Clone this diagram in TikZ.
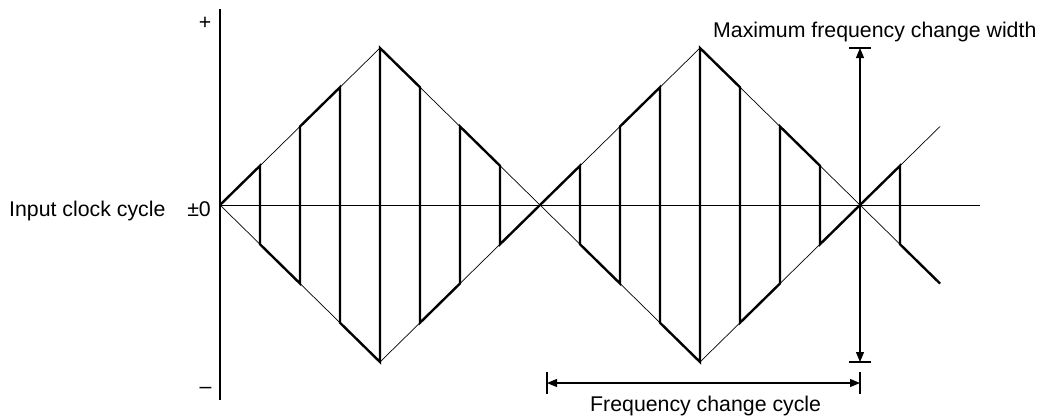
\documentclass[tikz,border=0pt]{standalone}
\usepackage{fontspec}
\setmainfont{Liberation Sans}
\usetikzlibrary{arrows.meta}
\begin{document}
\begin{tikzpicture}[x=1pt,y=-1pt,
  thinline/.style={line width=0.7pt},
  axisline/.style={line width=1.1pt},
  stepline/.style={line width=2.4pt,line join=miter,line cap=butt},
  dimline/.style={line width=1.1pt,{Triangle[length=10pt,width=8pt]}-{Triangle[length=10pt,width=8pt]}},
  lbl/.style={inner sep=0pt,font=\fontsize{21.3}{25}\selectfont}]
\useasboundingbox (0,0) rectangle (1044,416);
% axes
\coordinate (ytop) at (220,9);
\coordinate (ybot) at (220,400);
\coordinate (o) at (220,205);
\coordinate (xend) at (980,205);
\draw[axisline] (ytop) -- (ybot);
\draw[thinline] (o) -- (xend);
% diamonds
\coordinate (l1) at (220,205);
\coordinate (t1) at (380,48);
\coordinate (m) at (540,205);
\coordinate (b1) at (380,362);
\coordinate (t2) at (700,48);
\coordinate (r2) at (860,205);
\coordinate (b2) at (700,362);
\coordinate (eu) at (940,126.5);
\coordinate (ed) at (940,283.5);
\draw[thinline] (l1) -- (t1) -- (m) -- (b1) -- cycle;
\draw[thinline] (m) -- (t2) -- (r2) -- (b2) -- cycle;
\draw[thinline] (r2) -- (eu);
\draw[thinline] (r2) -- (ed);
% stepped curve
\draw[stepline] (220,205) -- (260,165.75) -- (260,244.25) -- (300,283.5) -- (300,126.5) -- (340,87.25) -- (340,322.75) -- (380,362) -- (380,48) -- (420,87.25) -- (420,322.75) -- (460,283.5) -- (460,126.5) -- (500,165.75) -- (500,244.25) -- (540,205) -- (580,165.75) -- (580,244.25) -- (620,283.5) -- (620,126.5) -- (660,87.25) -- (660,322.75) -- (700,362) -- (700,48) -- (740,87.25) -- (740,322.75) -- (780,283.5) -- (780,126.5) -- (820,165.75) -- (820,244.25) -- (860,205) -- (900,165.75) -- (900,244.25) -- (ed);
% maximum frequency change width
\coordinate (wt) at (860,48);
\coordinate (wb) at (860,362);
\coordinate (wtl) at (849,48);
\coordinate (wtr) at (871,48);
\coordinate (wbl) at (849,362);
\coordinate (wbr) at (871,362);
\draw[axisline] (wtl) -- (wtr);
\draw[axisline] (wbl) -- (wbr);
\draw[dimline] (wt) -- (wb);
% frequency change cycle
\coordinate (cl) at (547,383);
\coordinate (cr) at (860,383);
\coordinate (clt) at (547,372);
\coordinate (clb) at (547,394);
\coordinate (crt) at (860,372);
\coordinate (crb) at (860,394);
\draw[axisline] (clt) -- (clb);
\draw[axisline] (crt) -- (crb);
\draw[dimline] (cl) -- (cr);
% labels
\node[lbl,anchor=base west] (lmax) at (713,37) {Maximum frequency change width};
\node[lbl,anchor=base west] (lcyc) at (590,411) {Frequency change cycle};
\node[lbl,anchor=base west] (lin) at (9,216) {Input clock cycle};
\node[lbl,anchor=base east] (lzero) at (211,216) {±0};
\node[lbl,anchor=base] (lplus) at (205,29.5) {+};
\node[lbl,anchor=base] (lminus) at (205.5,393.5) {–};
\end{tikzpicture}
\end{document}
